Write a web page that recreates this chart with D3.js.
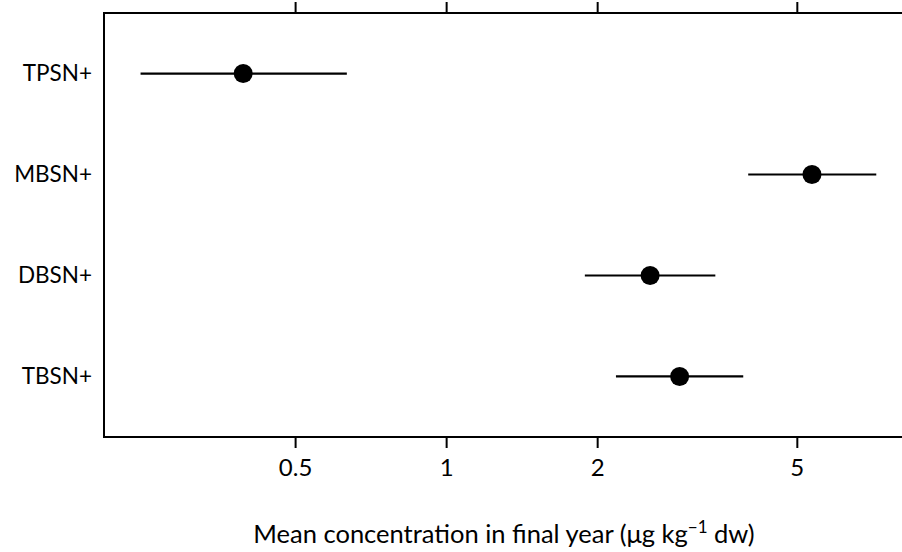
<!DOCTYPE html>
<html>
<head>
<meta charset="utf-8">
<script src="https://cdn.jsdelivr.net/npm/d3@7"></script>
<style>
  body { margin: 0; background: #fff; }
  svg { display: block; font-family: Lato, "Open Sans", sans-serif; }
</style>
</head>
<body>
<div id="chart"></div>
<script>
// data (log scale, ug/kg dw)
const compounds = ["TPSN+", "MBSN+", "DBSN+", "TBSN+"];
const means = [0.394, 5.36, 2.55, 2.92];
const lower = [0.246, 4.00, 1.89, 2.18];
const upper = [0.634, 7.20, 3.44, 3.91];
const xTicks = [0.5, 1, 2, 5];

const width = 902, height = 552;
const box = {left: 104, top: 13, bottom: 437, right: 920};

const svg = d3.select("#chart").append("svg")
    .attr("width", width)
    .attr("height", height);

const x = d3.scaleLog([0.208, 8.8], [box.left, box.right]);
const y = d3.scalePoint(compounds, [box.top, box.bottom]).padding(0.6);

// frame (right side runs off the picture)
svg.append("rect")
    .attr("x", box.left)
    .attr("y", box.top)
    .attr("width", box.right - box.left)
    .attr("height", box.bottom - box.top)
    .attr("fill", "none")
    .attr("stroke", "#000")
    .attr("stroke-width", 2);

// bottom axis
const xAxis = svg.append("g")
    .attr("transform", `translate(0,${box.bottom})`)
    .call(d3.axisBottom(x).tickValues(xTicks).tickFormat(d3.format("")).tickSize(11).tickPadding(11));
xAxis.select(".domain").remove();
xAxis.selectAll("line").attr("stroke-width", 2);
xAxis.selectAll("text").attr("font-size", 24).attr("font-family", "Lato").attr("fill", "#000");

// top axis, ticks only
const topAxis = svg.append("g")
    .attr("transform", `translate(0,${box.top})`)
    .call(d3.axisTop(x).tickValues(xTicks).tickFormat("").tickSize(11));
topAxis.select(".domain").remove();
topAxis.selectAll("line").attr("stroke-width", 2);

// category labels
svg.append("g")
    .selectAll("text")
    .data(compounds)
    .join("text")
    .attr("x", box.left - 12)
    .attr("y", d => y(d))
    .attr("dy", "0.35em")
    .attr("text-anchor", "end")
    .attr("font-size", 22.5)
    .text(d => d);

// intervals
svg.append("g")
    .selectAll("line")
    .data(compounds)
    .join("line")
    .attr("x1", (d, i) => x(lower[i]))
    .attr("x2", (d, i) => x(upper[i]))
    .attr("y1", d => y(d))
    .attr("y2", d => y(d))
    .attr("stroke", "#000")
    .attr("stroke-width", 2.2);

// means
svg.append("g")
    .selectAll("circle")
    .data(compounds)
    .join("circle")
    .attr("cx", (d, i) => x(means[i]))
    .attr("cy", d => y(d))
    .attr("r", 9.5)
    .attr("fill", "#000");

// axis title
const title = svg.append("text")
    .attr("x", 504)
    .attr("y", 543)
    .attr("text-anchor", "middle")
    .attr("font-size", 25.5);
title.append("tspan").text("Mean concentration in final year (μg kg");
title.append("tspan").attr("dy", -10).attr("font-size", 17).text("−1");
title.append("tspan").attr("dy", 10).text(" dw)");
</script>
</body>
</html>
